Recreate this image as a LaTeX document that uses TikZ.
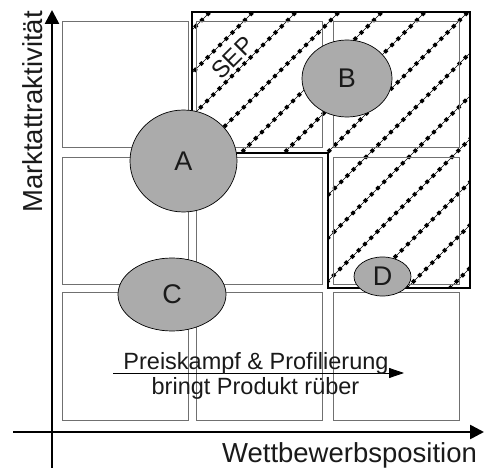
\documentclass[tikz,border=0pt]{standalone}
\usepackage{fontspec}
\setmainfont{Liberation Sans}
\usetikzlibrary{arrows.meta,shapes.geometric}
\definecolor{cellgray}{HTML}{707070}
\definecolor{bubblegray}{HTML}{ABABAB}
\definecolor{txt}{HTML}{1A1A1A}
\begin{document}
\begin{tikzpicture}[x=1pt,y=-1pt,
  cell/.style={draw=cellgray,line width=0.8pt},
  bubble/.style={ellipse,draw=black,line width=0.7pt,fill=bubblegray,inner sep=0pt,text=txt,font=\fontsize{27}{27}\selectfont},
  axisline/.style={line width=2.6pt,-{Triangle[length=14pt,width=14pt]}},
  dotline/.style={line width=3.8pt,dash pattern=on 3.6pt off 5.2pt,line cap=butt},
  thinline/.style={line width=0.45pt},
  bigtext/.style={text=txt,font=\fontsize{27.5}{28}\selectfont,inner sep=0pt},
  midtext/.style={text=txt,font=\fontsize{23.5}{24}\selectfont,inner sep=0pt}
]
\useasboundingbox (0,0) rectangle (485,468);
\fill[white] (0,0) rectangle (485,468);

% hatched SEP region
\begin{scope}
  \clip (192,12) -- (470,12) -- (470,288) -- (328,288) -- (328,153) -- (192,153) -- cycle;
  \foreach \k in {0,...,13} {
    \pgfmathsetmacro{\c}{222+43*\k}
    \draw[dotline] (\c-320,320) -- (\c,0);
    \draw[thinline] (\c-320,320) -- (\c,0);
  }
\end{scope}

% grid cells
\foreach \xa/\xb in {62/188,196/322,333/459}{
  \foreach \ya/\yb in {21/147,157/284,292/420}{
    \draw[cell] (\xa,\ya) rectangle (\xb,\yb);
  }
}

% thick border of SEP region
\draw[line width=2.4pt,line join=miter] (192,12) -- (470,12) -- (470,288) -- (328,288) -- (328,153) -- (192,153) -- cycle;

\node[bigtext,rotate=45,font=\fontsize{24}{24}\selectfont] (sep) at (232.5,57.5) {SEP};

% bubbles
\node[bubble,minimum width=107pt,minimum height=102pt] (A) at (183.5,161) {A};
\node[bubble,minimum width=90pt,minimum height=77pt] (B) at (347,78.5) {B};
\node[bubble,minimum width=108pt,minimum height=73pt] (C) at (172,294.5) {C};
\node[bubble,minimum width=57pt,minimum height=39pt] (D) at (382.5,276.5) {D};

% price arrow and text
\coordinate (pa) at (113,373);
\coordinate (pb) at (404,373);
\draw[line width=0.8pt,-{Triangle[length=15pt,width=10pt]}] (pa) -- (pb);
\node[midtext,anchor=base] (p1) at (256,369.5) {Preiskampf \& Profilierung};
\node[midtext,anchor=base] (p2) at (255.5,394) {bringt Produkt rüber};

% axes
\coordinate (vy0) at (52,468);
\coordinate (vy1) at (52,10);
\coordinate (hx0) at (13,432);
\coordinate (hx1) at (484,432);
\draw[axisline] (vy0) -- (vy1);
\draw[axisline] (hx0) -- (hx1);

\node[bigtext,anchor=base] (xl) at (349.5,462) {Wettbewerbsposition};
\node[bigtext,anchor=base,rotate=90] (yl) at (42,112) {Marktattraktivität};
\end{tikzpicture}
\end{document}
